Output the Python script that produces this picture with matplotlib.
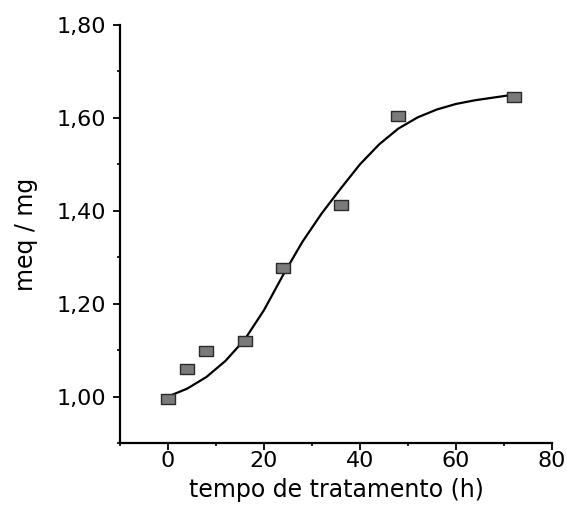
import numpy as np
import matplotlib
matplotlib.use("Agg")
from matplotlib import pyplot as plt
from matplotlib.path import Path
from matplotlib.ticker import FuncFormatter, MultipleLocator

# measured points
tempo = [0, 4, 8, 16, 24, 36, 48, 72]
meq = [0.995, 1.06, 1.099, 1.12, 1.277, 1.413, 1.605, 1.646]

# fitted curve (sampled)
fit_t = [0, 4, 8, 12, 16, 20, 24, 28, 32, 36, 40, 44, 48, 52, 56, 60, 64, 68, 72]
fit_meq = [1.000, 1.017, 1.042, 1.077, 1.123, 1.186, 1.262, 1.333, 1.394, 1.448,
           1.500, 1.543, 1.577, 1.601, 1.618, 1.630, 1.638, 1.644, 1.650]

plt.rcParams.update({'font.family': 'DejaVu Sans', 'font.size': 16})

# slightly wide rectangle marker
rect = Path([(-1.35, -1), (1.35, -1), (1.35, 1), (-1.35, 1), (-1.35, -1)],
            [Path.MOVETO, Path.LINETO, Path.LINETO, Path.LINETO, Path.CLOSEPOLY])

fig = plt.figure(figsize=(5.67, 5.09), dpi=100)
ax = fig.add_axes([0.2116, 0.1297, 0.9735 - 0.2116, 0.9509 - 0.1297])

ax.plot(fit_t, fit_meq, color='black', lw=1.6, zorder=2)
ax.plot(tempo, meq, linestyle='none', marker=rect, markersize=10,
        markerfacecolor='#7a7a7a', markeredgecolor='#2a2a2a', markeredgewidth=1.0, zorder=3)

ax.set_xlim(-10, 80)
ax.set_ylim(0.90, 1.80)
ax.xaxis.set_major_locator(MultipleLocator(20))
ax.xaxis.set_minor_locator(MultipleLocator(10))
ax.yaxis.set_major_locator(MultipleLocator(0.2))
ax.yaxis.set_minor_locator(MultipleLocator(0.1))
ax.yaxis.set_major_formatter(FuncFormatter(lambda v, p: f"{v:.2f}".replace('.', ',')))

for spine in ['right', 'top']:
    ax.spines[spine].set_visible(False)
for spine in ['left', 'bottom']:
    ax.spines[spine].set_linewidth(1.6)

ax.tick_params(which='major', direction='out', length=5, width=1.3)
ax.tick_params(axis='y', which='major', pad=5)
ax.tick_params(axis='x', which='major', pad=1)
ax.tick_params(which='minor', direction='out', length=2.5, width=1.2)

ax.set_xlabel('tempo de tratamento (h)', fontsize=17, labelpad=5)
ax.set_ylabel('meq / mg', fontsize=17, labelpad=13)

fig.savefig('out.png', dpi=100)
